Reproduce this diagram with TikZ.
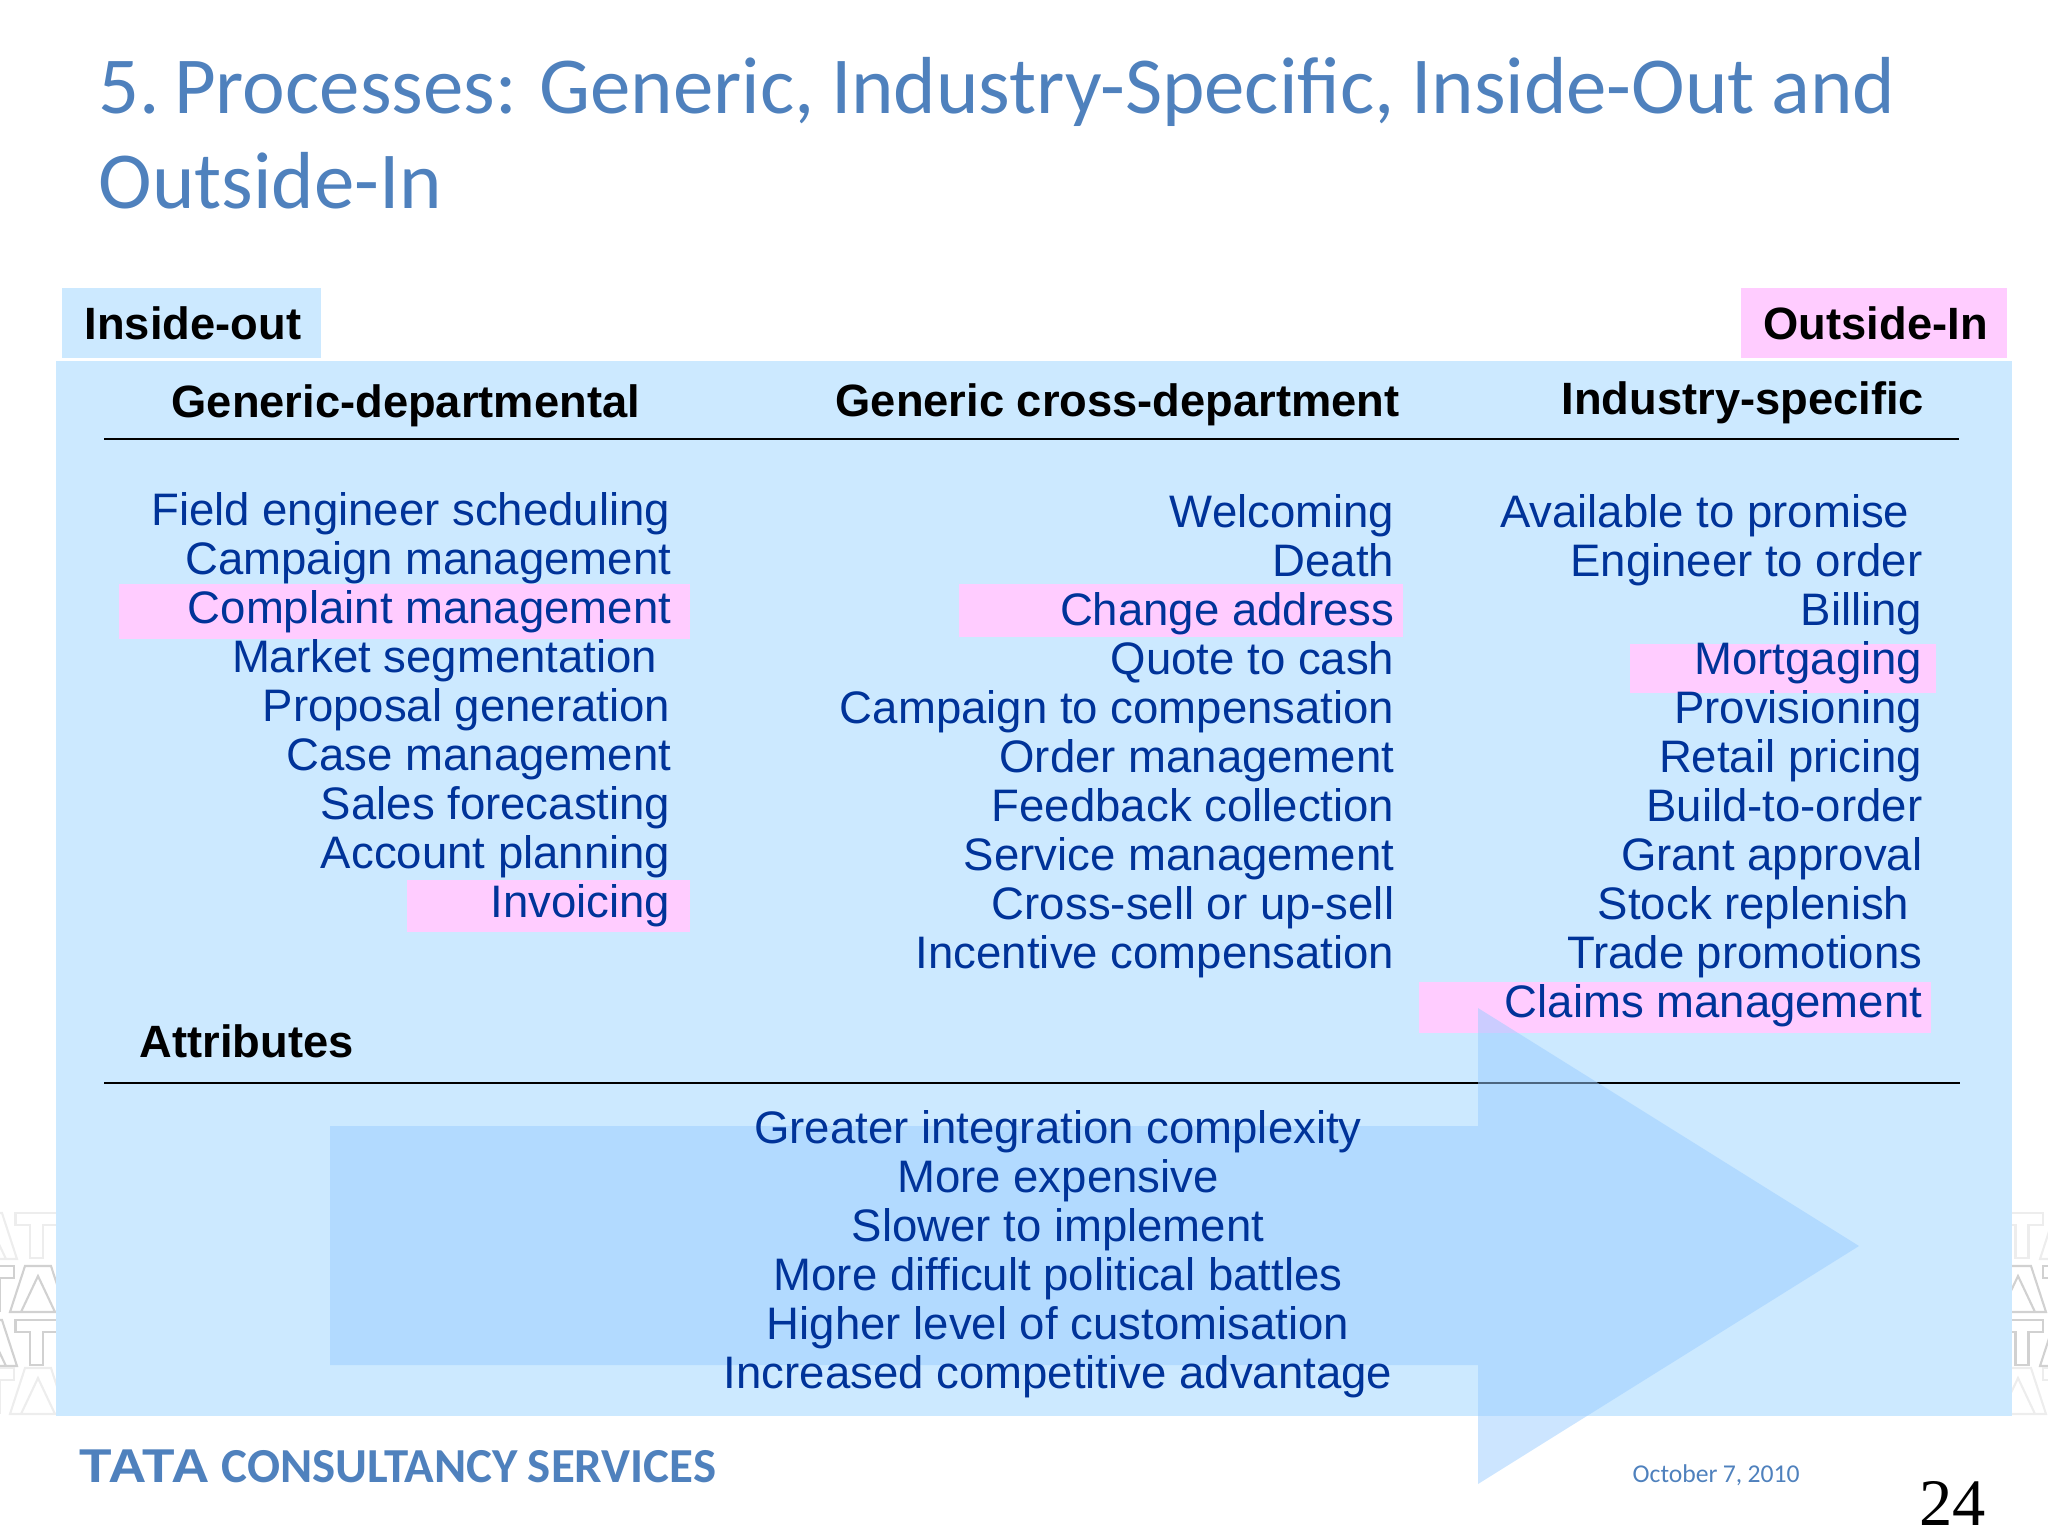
\documentclass[tikz,border=0pt]{standalone}
\usepackage{fontspec}
\setmainfont{Liberation Sans}
\newfontfamily\titlefont[WordSpace=0.9]{Carlito}
\newfontfamily\pagefont{Liberation Serif}
\usepackage{tikz}
\definecolor{panelblue}{HTML}{CCE9FF}
\definecolor{pinkbar}{HTML}{FFCCFF}
\definecolor{arrowblue}{HTML}{99CCFF}
\definecolor{itemblue}{HTML}{003399}
\definecolor{titleblue}{HTML}{4F81BD}
\tikzset{
    itemtext/.style={anchor=base east, inner sep=0pt, text=itemblue, font=\fontsize{12.95}{14}\selectfont},
    midtext/.style={anchor=base, inner sep=0pt, text=itemblue, font=\fontsize{12.95}{14}\selectfont},
    headtext/.style={anchor=base west, inner sep=0pt, font=\fontsize{12.88}{14}\selectfont\bfseries},
    titletext/.style={anchor=base west, inner sep=0pt, text=titleblue, font=\fontsize{23}{28}\titlefont},
    wmline/.style={draw=black!18, line width=0.6pt},
    wmfaint/.style={draw=black!7, line width=0.6pt},
    wmT/.pic={\path[pic actions] (-21,0)--(21,0)--(21,12)--(6.5,12)--(6.5,45)--(-6.5,45)--(-6.5,12)--(-21,12)--cycle;},
    wmA/.pic={\path[pic actions] (-28,46)--(-13,0)--(13,0)--(28,46)--cycle (-17,46)--(0,10)--(17,46);}
}
\begin{document}
\begin{tikzpicture}[x=0.01cm, y=-0.01cm]
    \useasboundingbox (0,0) rectangle (2048,1536);
    \pic[wmfaint] at (36.5,1213) {wmT};
    \pic[wmfaint] at (-11,1213) {wmA};
    \pic[wmline] at (-7,1266) {wmT};
    \pic[wmline] at (38,1266) {wmA};
    \pic[wmline] at (-11,1320) {wmA};
    \pic[wmline] at (36.5,1320) {wmT};
    \pic[wmfaint] at (-7,1368) {wmT};
    \pic[wmfaint] at (38,1368) {wmA};
    \pic[wmfaint] at (2022,1213) {wmT};
    \pic[wmfaint] at (2068,1213) {wmA};
    \pic[wmline] at (2018,1266) {wmA};
    \pic[wmline] at (2064,1266) {wmT};
    \pic[wmline] at (2022,1320) {wmT};
    \pic[wmline] at (2068,1320) {wmA};
    \pic[wmfaint] at (2018,1368) {wmA};
    \pic[wmfaint] at (2064,1368) {wmT};

    \fill[panelblue] (56,361) rectangle (2012,1416);
    \fill[panelblue] (62,288) rectangle (321,358);
    \fill[pinkbar] (1741,288) rectangle (2007,358);
    \fill[pinkbar] (119,584) rectangle (690,639);
    \fill[pinkbar] (407,880) rectangle (690,932);
    \fill[pinkbar] (959,584) rectangle (1403,637);
    \fill[pinkbar] (1630,644) rectangle (1936,693);
    \fill[pinkbar] (1419,982) rectangle (1931,1033);
    \draw[line width=0.7pt] (104,439)--(1959,439);
    \draw[line width=0.7pt] (104,1083)--(1960,1083);
    \fill[arrowblue, opacity=0.5] (330,1126)--(1478,1126)--(1478,1008)--(1859,1246)--(1478,1484)--(1478,1365)--(330,1365)--cycle;

    \node[titletext] (title1) at (98,113) {5.\kern-2.4pt{} Processes: Generic, Industry-Specific, Inside-Out and};
    \node[titletext] (title2) at (98,208) {Outside-In};

    \node[headtext] (insideout) at (84,339) {Inside-out};
    \node[headtext] (outsidein) at (1763,339) {Outside-In};
    \node[headtext] (headdept) at (171,417) {Generic-departmental};
    \node[headtext] (headcross) at (835,416) {Generic cross-department};
    \node[headtext] (headindustry) at (1561,414) {Industry-specific};
    \node[headtext] (attributes) at (139,1057) {Attributes};

    \node[itemtext] (dept1) at (671,525) {Field engineer scheduling};
    \node[itemtext] (dept2) at (672,574) {Campaign management};
    \node[itemtext] (dept3) at (672,623) {Complaint management};
    \node[itemtext] (dept4) at (658,672) {Market segmentation};
    \node[itemtext] (dept5) at (671,721) {Proposal generation};
    \node[itemtext] (dept6) at (672,770) {Case management};
    \node[itemtext] (dept7) at (671,819) {Sales forecasting};
    \node[itemtext] (dept8) at (671,868) {Account planning};
    \node[itemtext] (dept9) at (671,917) {Invoicing};

    \node[itemtext] (cross1) at (1395,527) {Welcoming};
    \node[itemtext] (cross2) at (1395,576) {Death};
    \node[itemtext] (cross3) at (1395,625) {Change address};
    \node[itemtext] (cross4) at (1395,674) {Quote to cash};
    \node[itemtext] (cross5) at (1395,723) {Campaign to compensation};
    \node[itemtext] (cross6) at (1395,772) {Order management};
    \node[itemtext] (cross7) at (1395,821) {Feedback collection};
    \node[itemtext] (cross8) at (1395,870) {Service management};
    \node[itemtext] (cross9) at (1395,919) {Cross-sell or up-sell};
    \node[itemtext] (cross10) at (1395,968) {Incentive compensation};

    \node[itemtext] (ind1) at (1910,527) {Available to promise};
    \node[itemtext] (ind2) at (1923,576) {Engineer to order};
    \node[itemtext] (ind3) at (1923,625) {Billing};
    \node[itemtext] (ind4) at (1923,674) {Mortgaging};
    \node[itemtext] (ind5) at (1923,723) {Provisioning};
    \node[itemtext] (ind6) at (1923,772) {Retail pricing};
    \node[itemtext] (ind7) at (1923,821) {Build-to-order};
    \node[itemtext] (ind8) at (1923,870) {Grant approval};
    \node[itemtext] (ind9) at (1910,919) {Stock replenish};
    \node[itemtext] (ind10) at (1923,968) {Trade promotions};
    \node[itemtext] (ind11) at (1923,1017) {Claims management};

    \node[midtext] (attr1) at (1058,1143) {Greater integration complexity};
    \node[midtext] (attr2) at (1058,1192) {More expensive};
    \node[midtext] (attr3) at (1058,1241) {Slower to implement};
    \node[midtext] (attr4) at (1058,1290) {More difficult political battles};
    \node[midtext] (attr5) at (1058,1339) {Higher level of customisation};
    \node[midtext] (attr6) at (1058,1388) {Increased competitive advantage};

    \node[anchor=base west, inner sep=0pt, xscale=1.12, text=titleblue, font=\fontsize{13.5}{16}\bfseries] (logotata) at (79,1482) {TATA};
    \node[anchor=base west, inner sep=0pt, text=titleblue, font=\fontsize{13.9}{16}\titlefont\bfseries] (logoname) at (221,1482) {CONSULTANCY SERVICES};
    \node[anchor=base west, inner sep=0pt, text=titleblue, font=\fontsize{7.3}{9}\titlefont] (datetext) at (1632,1482) {October 7, 2010};
    \node[anchor=base west, inner sep=0pt, font=\fontsize{18.9}{22}\pagefont] (pagenum) at (1919,1525) {24};
\end{tikzpicture}
\end{document}
